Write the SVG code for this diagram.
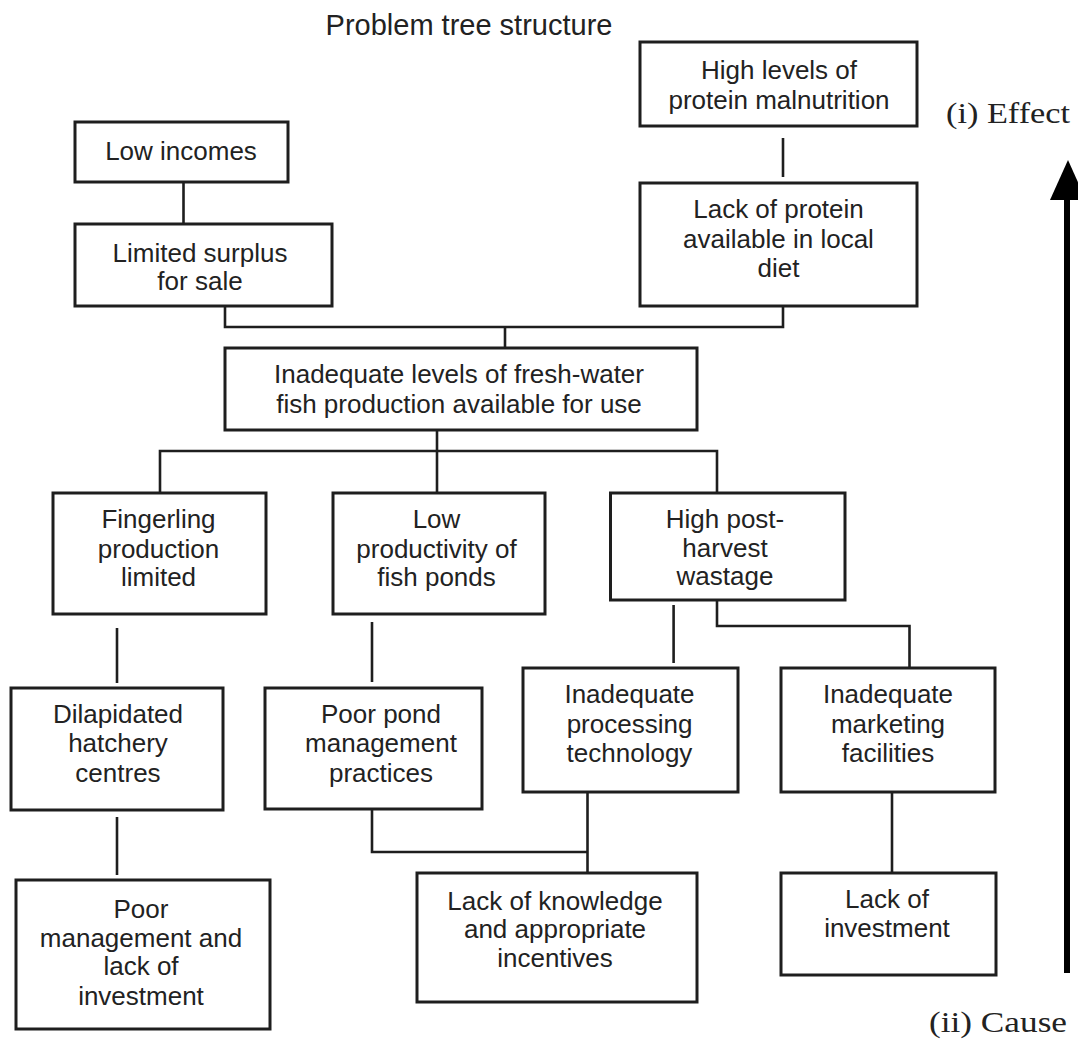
<svg xmlns="http://www.w3.org/2000/svg" width="1078" height="1040" viewBox="0 0 1078 1040">
<style>
.box{fill:#fff;stroke:#1e1e1e;stroke-width:3}
.t{font-family:"Liberation Sans",Arial,sans-serif;font-size:26px;fill:#222;text-anchor:middle}
.c{fill:none;stroke:#1e1e1e;stroke-width:2.6}
.lbl{font-family:"Liberation Serif","Times New Roman",serif;font-size:30px;fill:#222}
</style>
<rect width="1078" height="1040" fill="#fff"/>
<text x="469" y="35" class="t" style="font-size:29px">Problem tree structure</text>
<text x="946" y="123" class="lbl" textLength="124" lengthAdjust="spacingAndGlyphs">(i) Effect</text>
<text x="929" y="1032" class="lbl" textLength="138" lengthAdjust="spacingAndGlyphs">(ii) Cause</text>
<g id="arrow">
<line x1="1067" y1="196" x2="1067" y2="973" stroke="#000" stroke-width="6"/>
<polygon points="1068,160 1050,200 1086,200" fill="#000"/>
</g>
<g id="connectors">
<path class="c" d="M183.5,182 V224"/>
<path class="c" d="M783,138 V177"/>
<path class="c" d="M225,306 V327 H783 V306"/>
<path class="c" d="M505,327 V348"/>
<path class="c" d="M437,430 V493"/>
<path class="c" d="M160,493 V451 H717 V493"/>
<path class="c" d="M117,628 V683"/>
<path class="c" d="M117,817 V875"/>
<path class="c" d="M372,622 V682"/>
<path class="c" d="M673.6,605 V663"/>
<path class="c" d="M717,600 V626 H909.5 V668"/>
<path class="c" d="M372,810 V852 H587.5"/>
<path class="c" d="M587.5,792 V873"/>
<path class="c" d="M892,792 V873"/>
</g>
<g id="n_low_incomes"><rect class="box" x="75" y="122" width="213" height="60"/><text class="t" x="181" y="160">Low incomes</text></g>
<g id="n_limited_surplus"><rect class="box" x="75" y="224" width="257" height="82"/><text class="t" x="200" y="262">Limited surplus</text><text class="t" x="200" y="290">for sale</text></g>
<g id="n_high_levels"><rect class="box" x="640" y="42" width="277" height="84"/><text class="t" x="779" y="79">High levels of</text><text class="t" x="779" y="109">protein malnutrition</text></g>
<g id="n_lack_protein"><rect class="box" x="640" y="183" width="277" height="123"/><text class="t" x="778.5" y="218">Lack of protein</text><text class="t" x="778.5" y="248">available in local</text><text class="t" x="778.5" y="277">diet</text></g>
<g id="n_inadequate_levels"><rect class="box" x="225" y="348" width="472" height="82"/><text class="t" x="459" y="383">Inadequate levels of fresh-water</text><text class="t" x="459" y="413">fish production available for use</text></g>
<g id="n_fingerling"><rect class="box" x="53" y="493" width="213" height="121"/><text class="t" x="158.5" y="528">Fingerling</text><text class="t" x="158.5" y="558">production</text><text class="t" x="158.5" y="586">limited</text></g>
<g id="n_low_productivity"><rect class="box" x="333" y="493" width="212" height="121"/><text class="t" x="436.5" y="528">Low</text><text class="t" x="436.5" y="558">productivity of</text><text class="t" x="436.5" y="586">fish ponds</text></g>
<g id="n_high_post_harvest"><rect class="box" x="610.5" y="493" width="234.5" height="107"/><text class="t" x="725" y="528">High post-</text><text class="t" x="725" y="557">harvest</text><text class="t" x="725" y="585">wastage</text></g>
<g id="n_dilapidated"><rect class="box" x="11" y="688" width="212" height="122"/><text class="t" x="118" y="723">Dilapidated</text><text class="t" x="118" y="752">hatchery</text><text class="t" x="118" y="782">centres</text></g>
<g id="n_poor_pond"><rect class="box" x="265" y="688" width="217" height="121"/><text class="t" x="381" y="723">Poor pond</text><text class="t" x="381" y="752">management</text><text class="t" x="381" y="782">practices</text></g>
<g id="n_inadequate_processing"><rect class="box" x="523" y="668" width="215" height="124"/><text class="t" x="629.5" y="703">Inadequate</text><text class="t" x="629.5" y="733">processing</text><text class="t" x="629.5" y="762">technology</text></g>
<g id="n_inadequate_marketing"><rect class="box" x="781" y="668" width="214" height="124"/><text class="t" x="888" y="703">Inadequate</text><text class="t" x="888" y="733">marketing</text><text class="t" x="888" y="762">facilities</text></g>
<g id="n_poor_management"><rect class="box" x="16" y="880" width="254" height="149"/><text class="t" x="141" y="918">Poor</text><text class="t" x="141" y="947">management and</text><text class="t" x="141" y="975">lack of</text><text class="t" x="141" y="1005">investment</text></g>
<g id="n_lack_knowledge"><rect class="box" x="417" y="873" width="280" height="129"/><text class="t" x="555" y="910">Lack of knowledge</text><text class="t" x="555" y="938">and appropriate</text><text class="t" x="555" y="967">incentives</text></g>
<g id="n_lack_investment"><rect class="box" x="781" y="873" width="215" height="102"/><text class="t" x="887" y="908">Lack of</text><text class="t" x="887" y="937">investment</text></g>
</svg>
